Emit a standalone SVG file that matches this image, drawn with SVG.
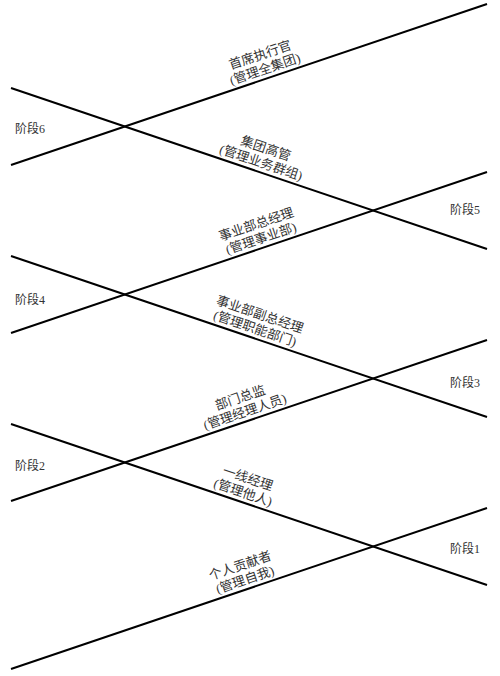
<svg xmlns="http://www.w3.org/2000/svg" width="500" height="676" viewBox="0 0 500 676">
<style>
.ln{stroke:#000;stroke-width:2;fill:none}
.lb{font-family:"Liberation Serif","Noto Sans CJK SC",serif;font-size:13px;fill:#333;text-anchor:middle}
.st{font-family:"Liberation Serif","Noto Sans CJK SC",serif;font-size:12px;fill:#333}
</style>
<rect width="500" height="676" fill="#fff"/>
<g id="connectors">
<line class="ln" x1="11" y1="165" x2="487" y2="4"/>
<line class="ln" x1="11" y1="88" x2="487" y2="249"/>
<line class="ln" x1="11" y1="333" x2="487" y2="172"/>
<line class="ln" x1="11" y1="256" x2="487" y2="417"/>
<line class="ln" x1="11" y1="501" x2="487" y2="340"/>
<line class="ln" x1="11" y1="424" x2="487" y2="585"/>
<line class="ln" x1="11" y1="669" x2="487" y2="508"/>
</g>
<g id="stage6"><text class="st" x="15" y="133">阶段6</text></g>
<g id="stage5"><text class="st" x="450" y="214">阶段5</text></g>
<g id="stage4"><text class="st" x="15" y="304">阶段4</text></g>
<g id="stage3"><text class="st" x="450" y="387">阶段3</text></g>
<g id="stage2"><text class="st" x="15" y="470">阶段2</text></g>
<g id="stage1"><text class="st" x="450" y="553">阶段1</text></g>
<g id="ceo" transform="translate(268,78.1) rotate(-18.68)">
<text class="lb" x="0" y="-20">首席执行官</text>
<text class="lb" x="0" y="-5">(管理全集团)</text>
</g>
<g id="group-exec" transform="translate(258,171.5) rotate(18.68)">
<text class="lb" x="0" y="-20">集团高管</text>
<text class="lb" x="0" y="-5">(管理业务群组)</text>
</g>
<g id="bu-gm" transform="translate(264,247.4) rotate(-18.68)">
<text class="lb" x="0" y="-20">事业部总经理</text>
<text class="lb" x="0" y="-5">(管理事业部)</text>
</g>
<g id="bu-deputy" transform="translate(252,337.5) rotate(18.68)">
<text class="lb" x="0" y="-20">事业部副总经理</text>
<text class="lb" x="0" y="-5">(管理职能部门)</text>
</g>
<g id="dept-director" transform="translate(248,420.8) rotate(-18.68)">
<text class="lb" x="0" y="-20">部门总监</text>
<text class="lb" x="0" y="-5">(管理经理人员)</text>
</g>
<g id="frontline" transform="translate(240,501.4) rotate(18.68)">
<text class="lb" x="0" y="-20">一线经理</text>
<text class="lb" x="0" y="-5">(管理他人)</text>
</g>
<g id="individual" transform="translate(248,588.8) rotate(-18.68)">
<text class="lb" x="0" y="-20">个人贡献者</text>
<text class="lb" x="0" y="-5">(管理自我)</text>
</g>
</svg>
